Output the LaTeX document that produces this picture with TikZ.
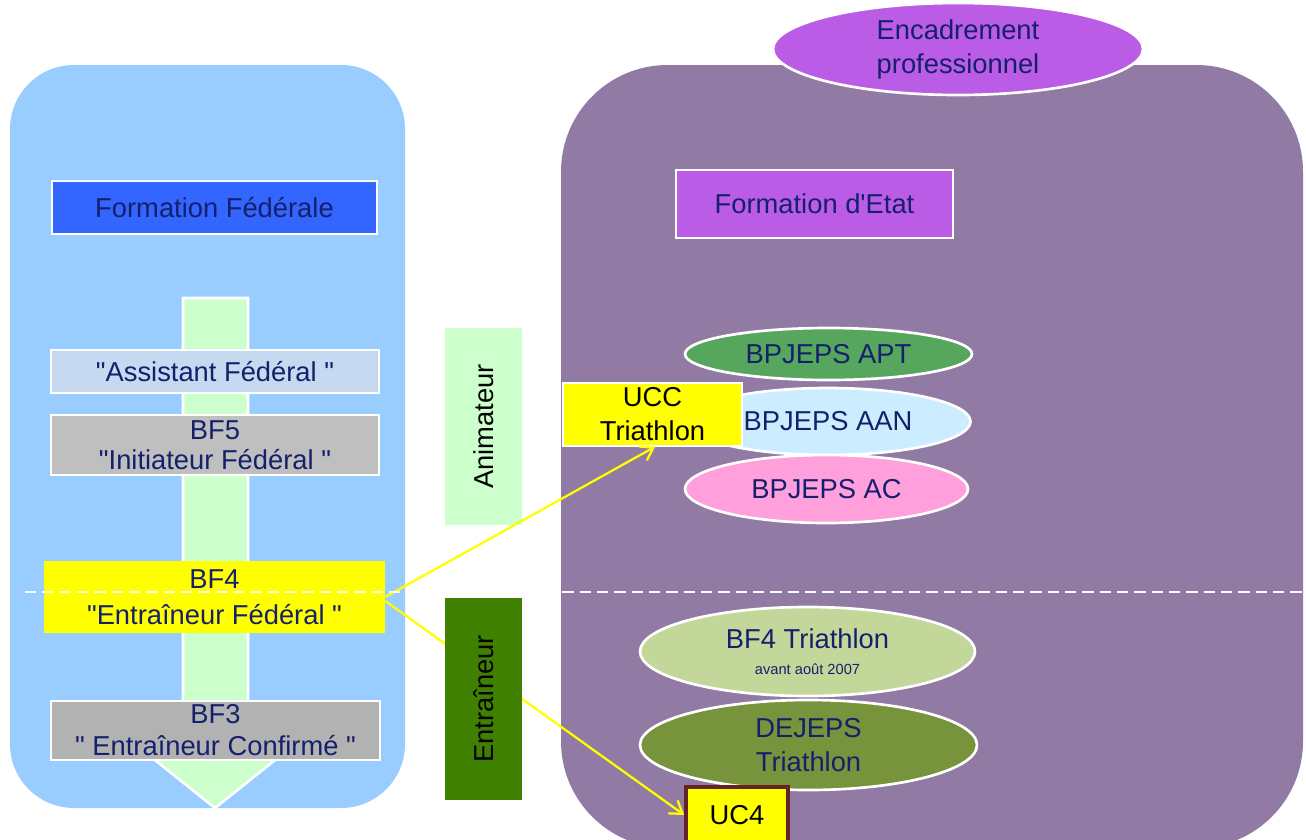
\documentclass[tikz,border=0pt]{standalone}
\usepackage{fontspec}
\setmainfont{Liberation Sans}
\usetikzlibrary{shapes.geometric,arrows.meta}
\definecolor{navy}{HTML}{14206B}
\definecolor{leftpanel}{HTML}{99CCFF}
\definecolor{rightpanel}{HTML}{917AA3}
\definecolor{palegreen}{HTML}{CCFFCC}
\definecolor{fedblue}{HTML}{3366FF}
\definecolor{assist}{HTML}{C6D9F0}
\definecolor{grayA}{HTML}{BFBFBF}
\definecolor{grayB}{HTML}{B2B2B2}
\definecolor{ygold}{HTML}{FFFF00}
\definecolor{entgreen}{HTML}{408000}
\definecolor{violet}{HTML}{BB5CE6}
\definecolor{aptgreen}{HTML}{57A65E}
\definecolor{aanblue}{HTML}{CCECFF}
\definecolor{acpink}{HTML}{FF9FDC}
\definecolor{bftri}{HTML}{C4D79B}
\definecolor{dejeps}{HTML}{77933C}
\definecolor{ucbrown}{HTML}{632423}
\newcommand{\qq}{\textquotedbl}
\pgfdeclarelayer{back}
\pgfdeclarelayer{lines}
\pgfsetlayers{back,lines,main}
\begin{document}
\begin{tikzpicture}[x=0.75pt,y=-0.75pt,
  txt/.style={font=\fontsize{20.5}{25.5}\selectfont, text=navy, align=center},
  box/.style={txt, draw=white, line width=2pt, inner sep=0pt},
  oval/.style={txt, ellipse, draw=white, line width=2pt, inner sep=0pt},
  vbox/.style={font=\fontsize{20.5}{25.5}\selectfont, text=black, rotate=90, inner sep=0pt},
  link/.style={draw=ygold, line width=1.7pt},
  tip/.style={-{Straight Barb[length=9pt,width=12pt]}}
]
\path[use as bounding box] (0,0) rectangle (1306,839);
\clip (0,0) rectangle (1306,839);

\begin{pgfonlayer}{back}
  \fill[leftpanel, rounded corners=48pt] (10,65) rectangle (405,808);
  \fill[rightpanel, rounded corners=80pt] (561,65) rectangle (1303,848);
  \draw[draw=white, line width=2pt, fill=palegreen]
    (183,298) -- (248,298) -- (248,756) -- (280,756) -- (215,808)
    -- (150,756) -- (183,756) -- cycle;
\end{pgfonlayer}

% left column
\node[box, fill=fedblue, minimum width=243.75pt, minimum height=39.75pt] (ff) at (214.5,207.5) {Formation Fédérale};
\node[box, fill=assist, minimum width=246pt, minimum height=32.25pt] (af) at (215,371.5) {\qq Assistant Fédéral \qq};
\node[box, fill=grayA, minimum width=246pt, minimum height=45pt, font=\fontsize{20.5}{22.5}\selectfont] (bf5) at (215,445) {BF5\\\qq Initiateur Fédéral \qq};
\node[txt, fill=ygold, inner sep=0pt, minimum width=255.75pt, minimum height=54pt, font=\fontsize{20.5}{27}\selectfont] (bf4) at (214.5,597) {BF4\\\qq Entraîneur Fédéral \qq};
\node[box, fill=grayB, minimum width=246.75pt, minimum height=44.25pt, font=\fontsize{20.5}{24}\selectfont] (bf3) at (215.5,730.5) {BF3\\\qq{} Entraîneur Confirmé \qq};

% middle column
\node[vbox, fill=palegreen, minimum width=147.75pt, minimum height=57.75pt] (anim) at (483.5,426.5) {Animateur};
\node[vbox, fill=entgreen, minimum width=151.5pt, minimum height=57.75pt] (entr) at (483.5,699) {Entraîneur};

% right column
\node[oval, fill=violet, minimum width=277.5pt, minimum height=69pt] (enc) at (958,49) {Encadrement\\professionnel};
\node[box, fill=violet, minimum width=207.75pt, minimum height=51pt] (fe) at (814.5,204) {Formation d\textquotesingle Etat};
\node[oval, fill=aptgreen, minimum width=215.25pt, minimum height=39pt] (apt) at (828.5,354) {BPJEPS APT};
\node[oval, fill=aanblue, minimum width=213.75pt, minimum height=50.25pt] (aan) at (828,421.5) {BPJEPS AAN};
\node[oval, fill=acpink, minimum width=212.25pt, minimum height=51pt] (ac) at (826.5,489) {BPJEPS AC};
\node[box, fill=ygold, text=black, line width=1pt, minimum width=134.25pt, minimum height=47.25pt] (ucc) at (652.5,414.5) {UCC\\Triathlon};
\node[oval, fill=bftri, minimum width=251.25pt, minimum height=66.75pt] (bft) at (807.5,651.5) {BF4 Triathlon\\[-6pt]{\fontsize{11}{13}\selectfont avant août 2007}};
\node[oval, fill=dejeps, minimum width=252.75pt, minimum height=67.5pt] (dej) at (808.5,745) {DEJEPS\\Triathlon};
\node[txt, text=black, fill=ygold, draw=ucbrown, line width=2.5pt, inner sep=0pt, minimum width=76.5pt, minimum height=42pt] (uc4) at (737,815) {UC4};

% connectors
\begin{pgfonlayer}{lines}
  \draw[link, tip] ([yshift=-3pt]bf4.east) -- (uc4.west);
\end{pgfonlayer}
\draw[link, tip] (bf4.east) -- ([xshift=2pt]ucc.south);

% separator
\draw[white, line width=1.5pt, dash pattern=on 8.5pt off 4.5pt] (25,592) -- (1303,592);
\end{tikzpicture}
\end{document}
